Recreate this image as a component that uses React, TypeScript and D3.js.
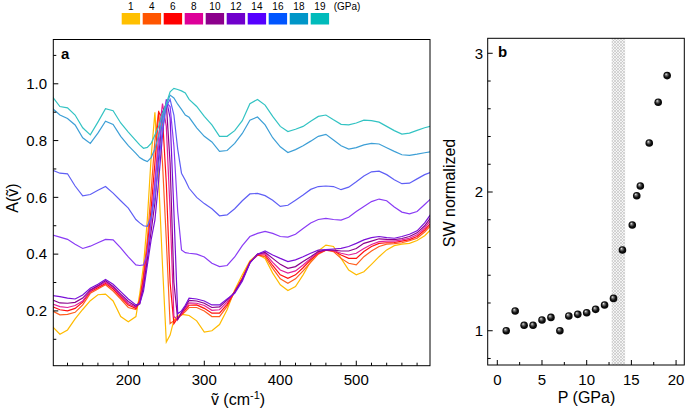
import React from "react";
import * as d3 from "d3";

// wavenumber grid (cm-1) shared by all spectra
const wavenumbers = [100, 110, 120, 130, 140, 150, 160, 170, 180, 190, 200, 210, 215, 220, 225, 230, 235, 240, 245, 250, 255, 260, 265, 270, 275, 280, 290, 300, 310, 320, 330, 340, 350, 360, 370, 380, 390, 400, 410, 420, 430, 440, 450, 460, 470, 480, 490, 500, 510, 520, 530, 540, 550, 560, 570, 580, 590, 600];

const pressures = [1, 4, 6, 8, 10, 12, 14, 16, 18, 19];
const legendColors = ["#FFC000", "#FF5500", "#FF0000", "#DD0099", "#8C008C", "#7000CC", "#5500FF", "#0055FF", "#0096C8", "#00BBBB"];
const lineColors = ["#FFBB00", "#FF6020", "#FF1010", "#E0209A", "#8C008C", "#7A10D8", "#8A3CF5", "#5F5FF5", "#3D9FD6", "#33C3C3"];

const a1 = [0.145, 0.118, 0.133, 0.172, 0.205, 0.236, 0.257, 0.259, 0.235, 0.18, 0.162, 0.18, 0.26, 0.36, 0.52, 0.74, 0.9, 0.66, 0.36, 0.09, 0.115, 0.168, 0.184, 0.188, 0.186, 0.184, 0.165, 0.125, 0.13, 0.152, 0.204, 0.274, 0.327, 0.376, 0.4, 0.385, 0.333, 0.292, 0.272, 0.286, 0.327, 0.374, 0.411, 0.432, 0.427, 0.385, 0.344, 0.327, 0.338, 0.364, 0.391, 0.415, 0.43, 0.435, 0.438, 0.448, 0.465, 0.492];
const a4 = [0.2, 0.186, 0.188, 0.195, 0.221, 0.262, 0.277, 0.292, 0.27, 0.242, 0.212, 0.205, 0.24, 0.33, 0.45, 0.62, 0.8, 0.905, 0.72, 0.45, 0.155, 0.165, 0.175, 0.185, 0.198, 0.212, 0.212, 0.2, 0.18, 0.18, 0.216, 0.268, 0.316, 0.372, 0.396, 0.391, 0.35, 0.313, 0.297, 0.313, 0.341, 0.371, 0.4, 0.414, 0.409, 0.385, 0.368, 0.362, 0.391, 0.411, 0.427, 0.435, 0.437, 0.44, 0.447, 0.456, 0.478, 0.506];
const a6 = [0.215, 0.204, 0.2, 0.209, 0.231, 0.268, 0.282, 0.297, 0.277, 0.249, 0.221, 0.209, 0.235, 0.315, 0.42, 0.56, 0.72, 0.9, 0.88, 0.65, 0.3, 0.155, 0.175, 0.188, 0.205, 0.22, 0.221, 0.209, 0.192, 0.192, 0.223, 0.268, 0.314, 0.371, 0.397, 0.397, 0.36, 0.327, 0.315, 0.327, 0.352, 0.38, 0.403, 0.414, 0.412, 0.397, 0.385, 0.385, 0.409, 0.427, 0.438, 0.44, 0.441, 0.446, 0.451, 0.462, 0.485, 0.514];
const a8 = [0.225, 0.215, 0.212, 0.219, 0.235, 0.27, 0.286, 0.301, 0.282, 0.254, 0.226, 0.213, 0.23, 0.3, 0.4, 0.52, 0.65, 0.82, 0.93, 0.85, 0.55, 0.18, 0.17, 0.19, 0.21, 0.228, 0.227, 0.219, 0.202, 0.204, 0.231, 0.267, 0.312, 0.37, 0.399, 0.402, 0.371, 0.344, 0.333, 0.341, 0.362, 0.385, 0.406, 0.415, 0.412, 0.403, 0.397, 0.403, 0.42, 0.434, 0.444, 0.446, 0.446, 0.45, 0.456, 0.468, 0.492, 0.526];
const a10 = [0.239, 0.228, 0.227, 0.23, 0.245, 0.274, 0.289, 0.306, 0.286, 0.259, 0.233, 0.216, 0.225, 0.285, 0.38, 0.48, 0.58, 0.74, 0.9, 0.93, 0.72, 0.3, 0.17, 0.195, 0.215, 0.237, 0.235, 0.227, 0.212, 0.214, 0.238, 0.266, 0.31, 0.37, 0.4, 0.406, 0.385, 0.364, 0.35, 0.356, 0.374, 0.391, 0.409, 0.415, 0.414, 0.411, 0.411, 0.42, 0.438, 0.446, 0.454, 0.452, 0.451, 0.455, 0.462, 0.475, 0.5, 0.536];
const a12 = [0.254, 0.25, 0.245, 0.242, 0.256, 0.28, 0.294, 0.311, 0.294, 0.268, 0.242, 0.221, 0.225, 0.27, 0.36, 0.45, 0.52, 0.66, 0.82, 0.945, 0.88, 0.55, 0.19, 0.2, 0.22, 0.245, 0.242, 0.235, 0.221, 0.221, 0.242, 0.262, 0.305, 0.368, 0.4, 0.411, 0.397, 0.385, 0.374, 0.38, 0.391, 0.403, 0.414, 0.416, 0.418, 0.42, 0.427, 0.438, 0.45, 0.458, 0.462, 0.458, 0.456, 0.462, 0.47, 0.482, 0.51, 0.548];
const a14 = [0.468, 0.46, 0.452, 0.435, 0.42, 0.428, 0.44, 0.452, 0.45, 0.422, 0.39, 0.362, 0.36, 0.362, 0.4, 0.52, 0.65, 0.78, 0.88, 0.935, 0.92, 0.78, 0.55, 0.415, 0.405, 0.403, 0.4, 0.39, 0.368, 0.356, 0.36, 0.39, 0.43, 0.462, 0.473, 0.48, 0.473, 0.462, 0.46, 0.47, 0.49, 0.51, 0.522, 0.526, 0.522, 0.52, 0.53, 0.55, 0.568, 0.585, 0.594, 0.588, 0.566, 0.548, 0.542, 0.55, 0.575, 0.6];
const a16 = [0.696, 0.685, 0.683, 0.64, 0.605, 0.61, 0.625, 0.638, 0.615, 0.588, 0.562, 0.522, 0.51, 0.5, 0.498, 0.53, 0.6, 0.72, 0.84, 0.92, 0.945, 0.89, 0.77, 0.685, 0.66, 0.632, 0.6, 0.578, 0.56, 0.535, 0.538, 0.56, 0.588, 0.612, 0.614, 0.606, 0.59, 0.568, 0.572, 0.59, 0.608, 0.628, 0.638, 0.64, 0.638, 0.627, 0.636, 0.655, 0.675, 0.69, 0.692, 0.68, 0.662, 0.648, 0.65, 0.665, 0.68, 0.69];
const a18 = [0.914, 0.89, 0.878, 0.855, 0.81, 0.79, 0.826, 0.868, 0.857, 0.815, 0.782, 0.755, 0.74, 0.732, 0.726, 0.74, 0.77, 0.82, 0.87, 0.925, 0.96, 0.95, 0.928, 0.91, 0.89, 0.882, 0.845, 0.815, 0.795, 0.762, 0.765, 0.79, 0.825, 0.872, 0.883, 0.855, 0.81, 0.778, 0.758, 0.768, 0.782, 0.798, 0.815, 0.822, 0.802, 0.782, 0.77, 0.775, 0.785, 0.79, 0.788, 0.775, 0.762, 0.75, 0.748, 0.752, 0.757, 0.761];
const a19 = [0.955, 0.92, 0.915, 0.89, 0.845, 0.82, 0.865, 0.912, 0.905, 0.862, 0.83, 0.8, 0.785, 0.773, 0.776, 0.79, 0.82, 0.85, 0.895, 0.93, 0.972, 0.984, 0.98, 0.975, 0.968, 0.945, 0.92, 0.885, 0.855, 0.815, 0.815, 0.835, 0.87, 0.93, 0.945, 0.925, 0.885, 0.85, 0.832, 0.84, 0.85, 0.868, 0.885, 0.89, 0.873, 0.857, 0.855, 0.862, 0.872, 0.87, 0.865, 0.85, 0.835, 0.823, 0.826, 0.836, 0.845, 0.852];
const spectra = [a1, a4, a6, a8, a10, a12, a14, a16, a18, a19];

// spectral weight vs pressure
const swPressure = [1, 2, 3, 4, 5, 6, 7, 8, 9, 10, 11, 12, 13, 14, 15.1, 15.6, 16, 17, 18, 19];
const swNormalized = [1.0, 1.142, 1.039, 1.039, 1.077, 1.096, 1.0, 1.106, 1.118, 1.13, 1.154, 1.185, 1.233, 1.582, 1.762, 1.973, 2.043, 2.353, 2.647, 2.839];
const transitionBand = [12.8, 14.3];

const font = "'Liberation Sans', Arial, Helvetica, sans-serif";
const W = 685;
const H = 413;
const pa = {left: 53.3, right: 430, top: 39.5, bottom: 365.7};
const pb = {left: 487.7, right: 684.3, top: 38.3, bottom: 365};

export default function App() {
    const xA = d3.scaleLinear().domain([101.3, 597]).range([pa.left, pa.right]);
    const yA = d3.scaleLinear().domain([0.007, 1.156]).range([pa.bottom, pa.top]);
    const xB = d3.scaleLinear().domain([-1.074, 20.92]).range([pb.left, pb.right]);
    const yB = d3.scaleLinear().domain([0.753, 3.108]).range([pb.bottom, pb.top]);

    const line = d3.line<number>()
        .x((d, i) => xA(wavenumbers[i]))
        .y(d => yA(d));

    const xTicksA = xA.ticks(25);
    const yTicksA = yA.ticks(12);
    const xTicksB = d3.range(0, 20.1, 2.5);
    const yTicksB = yB.ticks(12);

    const legendX = d3.scaleLinear().domain([0, 1]).range([121.7, 142.7]);

    return (
        <svg width={W} height={H} style={{position: "absolute", left: 0, top: 0}} fontFamily={font}>
            <defs>
                <clipPath id="clipA">
                    <rect x={pa.left} y={pa.top} width={pa.right - pa.left} height={pa.bottom - pa.top}/>
                </clipPath>
                <pattern id="hatch" width={3} height={3} patternUnits="userSpaceOnUse">
                    <rect width={3} height={3} fill="#f4f4f4"/>
                    <path d="M0,0 L3,3 M3,0 L0,3" stroke="#bdbdbd" strokeWidth={0.6}/>
                </pattern>
                <radialGradient id="ball" cx="0.5" cy="0.5" r="0.55" fx="0.35" fy="0.3">
                    <stop offset="0%" stopColor="#f4f4f4"/>
                    <stop offset="25%" stopColor="#777"/>
                    <stop offset="60%" stopColor="#111"/>
                    <stop offset="100%" stopColor="#000"/>
                </radialGradient>
            </defs>

            {/* legend */}
            {pressures.map((p, i) => (
                <g key={p}>
                    <text x={legendX(i) + 9.2} y={9.5} fontSize={10} textAnchor="middle">{p}</text>
                    <rect x={legendX(i)} y={13} width={18.4} height={11.5} fill={legendColors[i]}/>
                </g>
            ))}
            <text x={legendX(pressures.length) + 2} y={9.5} fontSize={10}>(GPa)</text>

            {/* panel a */}
            <g clipPath="url(#clipA)">
                {spectra.map((s, i) => (
                    <path key={i} d={line(s) || ""} fill="none" stroke={lineColors[i]} strokeWidth={1.2}/>
                ))}
            </g>
            <rect x={pa.left} y={pa.top} width={pa.right - pa.left} height={pa.bottom - pa.top} fill="none" stroke="#000" strokeWidth={1}/>
            {xTicksA.map(t => {
                const major = t % 100 === 0;
                return (
                    <g key={t}>
                        <line x1={xA(t)} x2={xA(t)} y1={pa.bottom} y2={pa.bottom - (major ? 5 : 3)} stroke="#000"/>
                        {major && <text x={xA(t)} y={384.5} fontSize={15} textAnchor="middle">{t}</text>}
                    </g>
                );
            })}
            {yTicksA.map(t => {
                const major = Math.round(t * 10) % 2 === 0;
                return (
                    <g key={t}>
                        <line x1={pa.left} x2={pa.left + (major ? 5 : 3)} y1={yA(t)} y2={yA(t)} stroke="#000"/>
                        {major && <text x={47} y={yA(t) + 5.3} fontSize={15} textAnchor="end">{d3.format(".1f")(t)}</text>}
                    </g>
                );
            })}
            <text x={61} y={58.5} fontSize={15} fontWeight="bold">a</text>
            <text x={238} y={405} fontSize={16} textAnchor="middle">
                ṽ (cm<tspan dy={-6} fontSize={11}>-1</tspan><tspan dy={6}>)</tspan>
            </text>
            <text transform="translate(18,198) rotate(-90)" fontSize={16} textAnchor="middle">A(ṽ)</text>

            {/* panel b */}
            <rect x={xB(transitionBand[0])} y={pb.top} width={xB(transitionBand[1]) - xB(transitionBand[0])} height={pb.bottom - pb.top} fill="url(#hatch)"/>
            <rect x={pb.left} y={pb.top} width={pb.right - pb.left} height={pb.bottom - pb.top} fill="none" stroke="#000" strokeWidth={1}/>
            {xTicksB.map(t => {
                const major = t % 5 === 0;
                return (
                    <g key={t}>
                        <line x1={xB(t)} x2={xB(t)} y1={pb.bottom} y2={pb.bottom - (major ? 5 : 3)} stroke="#000"/>
                        {major && <text x={xB(t)} y={385} fontSize={15} textAnchor="middle">{t}</text>}
                    </g>
                );
            })}
            {yTicksB.map(t => {
                const major = Math.abs(t - Math.round(t)) < 1e-6;
                return (
                    <g key={t}>
                        <line x1={pb.left} x2={pb.left + (major ? 5 : 3)} y1={yB(t)} y2={yB(t)} stroke="#000"/>
                        {major && <text x={483} y={yB(t) + 5.3} fontSize={15} textAnchor="end">{Math.round(t)}</text>}
                    </g>
                );
            })}
            {swPressure.map((p, i) => (
                <circle key={i} cx={xB(p)} cy={yB(swNormalized[i])} r={3.8} fill="url(#ball)"/>
            ))}
            <text x={498} y={57} fontSize={15} fontWeight="bold">b</text>
            <text x={586.5} y={403} fontSize={16} textAnchor="middle">P (GPa)</text>
            <text transform="translate(455,193) rotate(-90)" fontSize={16} textAnchor="middle">SW normalized</text>
        </svg>
    );
}
